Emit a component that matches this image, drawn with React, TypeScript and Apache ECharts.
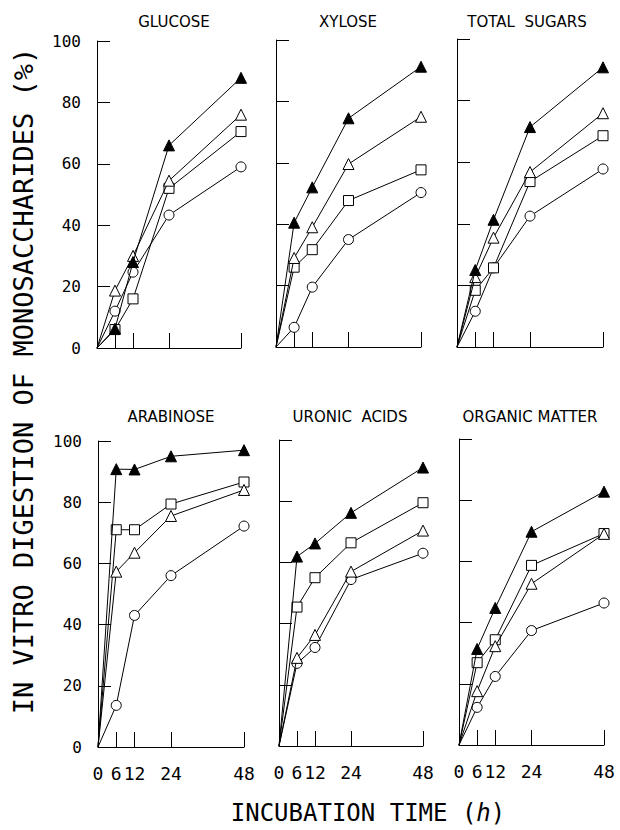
import React, { useEffect, useRef } from "react";
import * as echarts from "echarts";

// ---- data ----
const times = [0, 6, 12, 24, 48];
const xTickValues = [6, 12, 24, 48];
const xLabelValues = [0, 6, 12, 24, 48];

const panelTitles = ["GLUCOSE", "XYLOSE", "TOTAL  SUGARS", "ARABINOSE", "URONIC  ACIDS", "ORGANIC MATTER"];

// filled triangle, open triangle, open square, open circle
const glucoseFilledTri = [0, 6.3, 28, 66, 88];
const glucoseOpenTri = [0, 18.7, 30, 54.5, 76];
const glucoseSquare = [0, 6, 16, 52, 70.5];
const glucoseCircle = [0, 12, 24.7, 43.3, 59];

const xyloseFilledTri = [0, 40.5, 52, 74.5, 91.3];
const xyloseOpenTri = [0, 29, 39, 59.6, 75];
const xyloseSquare = [0, 26, 31.7, 47.7, 57.7];
const xyloseCircle = [0, 6.4, 19.5, 35, 50.3];

const totalFilledTri = [0, 25, 41.3, 71.4, 90.8];
const totalOpenTri = [0, 22.7, 35.5, 56.8, 75.9];
const totalSquare = [0, 18.4, 25.7, 53.7, 68.6];
const totalCircle = [0, 11.6, 25.7, 42.5, 57.8];

const arabFilledTri = [0, 90.8, 90.7, 95, 97];
const arabOpenTri = [0, 57.3, 63.5, 75.5, 84];
const arabSquare = [0, 71, 71, 79.4, 86.6];
const arabCircle = [0, 13.6, 43, 56, 72.2];

const uronicFilledTri = [0, 61.9, 66.2, 76.2, 91];
const uronicOpenTri = [0, 28.8, 36.3, 57, 70.4];
const uronicSquare = [0, 45.4, 55, 66.4, 79.5];
const uronicCircle = [0, 27, 32.2, 54.4, 63];

const organicFilledTri = [0, 31.4, 44.8, 69.7, 82.8];
const organicOpenTri = [0, 17.6, 32.3, 52.7, 69];
const organicSquare = [0, 26.9, 34.4, 58.7, 69.1];
const organicCircle = [0, 12.3, 22.4, 37.4, 46.4];

const panelData = [
  [glucoseFilledTri, glucoseOpenTri, glucoseSquare, glucoseCircle],
  [xyloseFilledTri, xyloseOpenTri, xyloseSquare, xyloseCircle],
  [totalFilledTri, totalOpenTri, totalSquare, totalCircle],
  [arabFilledTri, arabOpenTri, arabSquare, arabCircle],
  [uronicFilledTri, uronicOpenTri, uronicSquare, uronicCircle],
  [organicFilledTri, organicOpenTri, organicSquare, organicCircle],
];

const yAxisTitle = "IN VITRO DIGESTION OF MONOSACCHARIDES (%)";
const xAxisTitle = "INCUBATION TIME (";

// ---- layout ----
const grids = [
  { left: 97, top: 41, width: 144, height: 307 },
  { left: 276, top: 40, width: 145, height: 307 },
  { left: 457, top: 39, width: 146, height: 308 },
  { left: 98, top: 441, width: 146, height: 306 },
  { left: 279, top: 440, width: 144, height: 306 },
  { left: 459, top: 439, width: 145, height: 306 },
];
const titlePos = [
  [174, 22], [348, 22], [527, 22],
  [171, 417], [350, 417], [530, 417],
];

const MONO = "'DejaVu Sans Mono', monospace";

const markerStyles = [
  { symbol: "triangle", symbolSize: 11, itemStyle: { color: "#000", borderColor: "#000", borderWidth: 1 } },
  { symbol: "triangle", symbolSize: 11, itemStyle: { color: "#fff", borderColor: "#000", borderWidth: 1 } },
  { symbol: "rect", symbolSize: 10, itemStyle: { color: "#fff", borderColor: "#000", borderWidth: 1 } },
  { symbol: "circle", symbolSize: 10, itemStyle: { color: "#fff", borderColor: "#000", borderWidth: 1 } },
];

export default function App() {
  const ref = useRef<HTMLDivElement>(null);
  useEffect(() => {
    document.body.style.margin = "0";
    const chart = echarts.init(ref.current!, null, { renderer: "svg" });
    const grid = grids.map((g) => ({ ...g, containLabel: false, outerBoundsMode: "none" }));
    const xAxis = grids.map((_, i) => ({
      gridIndex: i,
      type: "value",
      min: 0,
      max: 48,
      axisLine: { show: true, onZero: false, lineStyle: { color: "#000", width: 1 } },
      axisTick: { show: true, inside: true, length: 15, customValues: xTickValues, lineStyle: { color: "#000", width: 1 } },
      axisLabel: {
        show: i >= 3,
        customValues: xLabelValues,
        fontSize: 18,
        fontFamily: MONO,
        color: "#000",
        margin: 17,
      },
      splitLine: { show: false },
    }));
    const yAxis = grids.map((_, i) => ({
      gridIndex: i,
      type: "value",
      min: 0,
      max: 100,
      interval: 20,
      axisLine: { show: true, onZero: false, lineStyle: { color: "#000", width: 1 } },
      axisTick: { show: true, inside: true, length: 13, lineStyle: { color: "#000", width: 1 } },
      axisLabel: {
        show: i % 3 === 0,
        fontSize: 16,
        fontFamily: MONO,
        color: "#000",
        margin: 16,
      },
      splitLine: { show: false },
    }));
    const series: any[] = [];
    panelData.forEach((sets, i) => {
      sets.forEach((vals, k) => {
        const m = markerStyles[k];
        series.push({
          type: "line",
          xAxisIndex: i,
          yAxisIndex: i,
          symbol: m.symbol,
          symbolSize: m.symbolSize,
          itemStyle: m.itemStyle,
          lineStyle: { color: "#000", width: 1 },
          showAllSymbol: true,
          silent: true,
          z: 2 + (3 - k),
          data: times.map((t, j) => (j === 0 ? { value: [t, vals[j]], symbol: "none" } : [t, vals[j]])),
        });
      });
    });
    const graphic: any[] = panelTitles.map((t, i) => ({
      type: "text",
      x: titlePos[i][0],
      y: titlePos[i][1],
      style: {
        text: t,
        fontSize: 15,
        fontFamily: "'DejaVu Sans', sans-serif",
        fill: "#000",
        textAlign: "center",
        textVerticalAlign: "middle",
      },
    }));
    graphic.push({
      type: "text",
      x: 23,
      y: 381,
      rotation: Math.PI / 2,
      style: {
        text: yAxisTitle,
        fontSize: 27,
        fontFamily: MONO,
        fill: "#000",
        textAlign: "center",
        textVerticalAlign: "middle",
      },
    });
    graphic.push({
      type: "text",
      x: 368,
      y: 813,
      style: {
        text: xAxisTitle + "{i|h})",
        fontSize: 24,
        fontFamily: MONO,
        fill: "#000",
        textAlign: "center",
        textVerticalAlign: "middle",
        rich: {
          i: { fontSize: 24, fontFamily: MONO, fontStyle: "italic", fill: "#000" },
        },
      },
    });
    chart.setOption({
      animation: false,
      backgroundColor: "#fff",
      grid,
      xAxis,
      yAxis,
      series,
      graphic,
    });
    return () => chart.dispose();
  }, []);
  return <div ref={ref} style={{ width: 620, height: 830 }} />;
}
